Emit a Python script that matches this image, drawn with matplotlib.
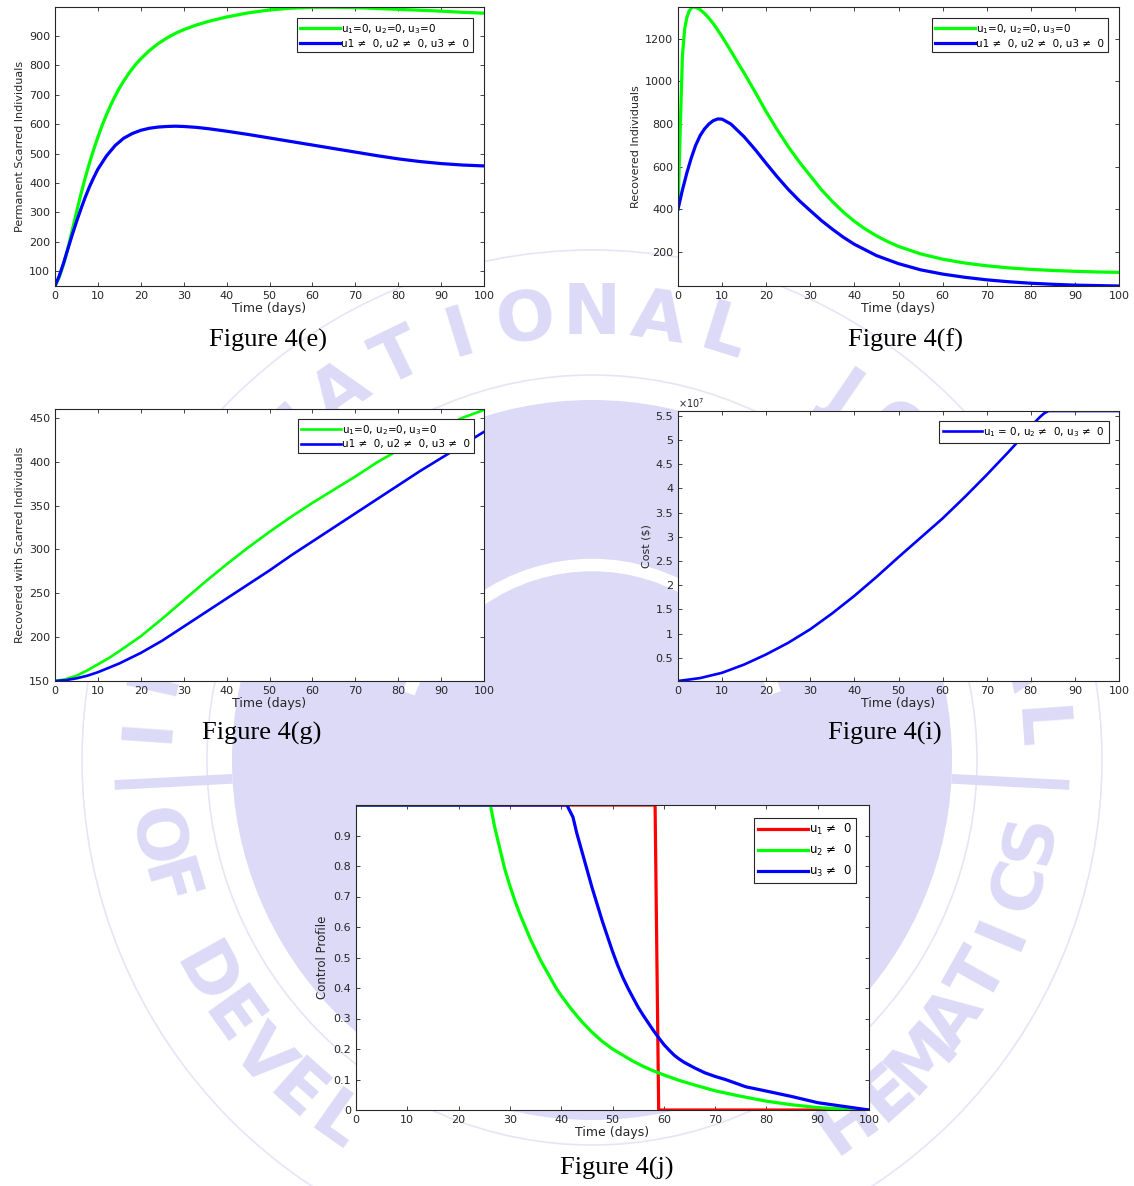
import numpy as np
import matplotlib
matplotlib.use('Agg')
import matplotlib.pyplot as plt
from matplotlib.patches import Circle, Arc

plt.rcParams['font.family'] = ['DejaVu Sans']
plt.rcParams['mathtext.default'] = 'regular'

W, H = 1134, 1186

# ---- data (time in days) ----
t_e_none = [0, 1, 2, 3, 4, 5, 6, 7, 8, 9, 10, 11, 12, 13, 14, 15, 16, 17, 18, 19, 20, 22, 24,
            26, 28, 30, 33, 36, 40, 45, 50, 55, 60, 65, 70, 75, 80, 85, 90, 95, 100]
scar_none = [50, 80, 124, 178, 238, 300, 360, 415, 466, 513, 556, 596, 632, 665, 695, 722, 746,
             768, 788, 806, 822, 850, 873, 892, 908, 921, 937, 950, 964, 978, 988, 994, 997, 997,
             996, 993, 990, 987, 984, 980, 977]
t_e_ctrl = [0, 1, 2, 3, 4, 5, 6, 7, 8, 9, 10, 12, 14, 16, 18, 20, 22, 24, 26, 28, 30, 33, 36,
            40, 45, 50, 55, 60, 65, 70, 75, 80, 85, 90, 95, 100]
scar_ctrl = [50, 85, 128, 176, 223, 268, 310, 350, 386, 418, 447, 492, 527, 552, 568, 579, 586,
             590, 592, 593, 592, 589, 584, 576, 565, 553, 541, 529, 517, 505, 493, 482, 473, 466,
             461, 458]

t_f_none = [0, 0.5, 1, 1.5, 2, 2.5, 3, 3.5, 4, 5, 6, 7, 8, 9, 10, 11, 12, 13, 14, 15, 17.5, 20,
            22.5, 25, 27.5, 30, 32.5, 35, 37.5, 40, 42.5, 45, 47.5, 50, 55, 60, 65, 70, 75, 80,
            85, 90, 95, 100]
rec_none = [400, 770, 1120, 1245, 1300, 1330, 1345, 1350, 1349, 1338, 1320, 1298, 1272, 1242,
            1210, 1177, 1143, 1108, 1073, 1040, 950, 858, 773, 694, 622, 557, 492, 436, 386, 343,
            306, 275, 248, 225, 190, 165, 147, 134, 124, 117, 112, 108, 105, 103]
t_f_ctrl = [0, 1, 2, 3, 4, 5, 6, 7, 8, 9, 10, 12, 15, 17.5, 20, 22.5, 25, 27.5, 30, 32.5, 35,
            37.5, 40, 45, 50, 55, 60, 65, 70, 75, 80, 85, 90, 95, 100]
rec_ctrl = [400, 490, 570, 640, 700, 745, 777, 800, 816, 824, 823, 800, 740, 680, 615, 552, 493,
            440, 393, 347, 306, 268, 235, 182, 144, 115, 95, 80, 68, 59, 52, 47, 43, 41, 39]

t_g = [0, 2.5, 5, 7.5, 10, 12.5, 15, 20, 25, 30, 35, 40, 45, 50, 55, 60, 65, 70, 75, 80, 85, 90,
       95, 100]
rs_none = [150, 152, 156, 162, 169, 176, 184, 201, 221, 242, 263, 283, 302, 320, 337, 353, 368,
           383, 399, 413, 427, 439, 450, 459]
rs_ctrl = [150, 151, 153, 156, 160, 165, 170, 182, 196, 212, 228, 244, 260, 276, 293, 309, 325,
           341, 357, 373, 389, 404, 419, 434]

t_i = [0, 5, 10, 15, 20, 25, 30, 35, 40, 45, 50, 55, 60, 65, 70, 75, 78, 80, 82, 83, 84, 90, 100]
cost = [0.02, 0.08, 0.19, 0.36, 0.57, 0.81, 1.09, 1.42, 1.78, 2.17, 2.58, 2.98, 3.38, 3.82, 4.28,
        4.76, 5.06, 5.28, 5.47, 5.55, 5.6, 5.6, 5.6]  # x 1e7

t_u1 = [0, 58.3, 59.0, 100]
u1 = [1, 1, 0, 0]
t_u2 = [0, 26.2, 27, 28, 29, 30, 31, 32, 33, 34, 35, 36, 37, 38, 39, 40, 42, 44, 46, 48, 50, 52,
        54, 56, 58, 60, 63, 66, 70, 75, 80, 85, 90, 95, 100]
u2 = [1, 1, 0.93, 0.86, 0.79, 0.735, 0.685, 0.64, 0.6, 0.56, 0.525, 0.49, 0.46, 0.43, 0.4, 0.375,
      0.33, 0.29, 0.255, 0.225, 0.2, 0.18, 0.16, 0.143, 0.128, 0.115, 0.097, 0.082, 0.063, 0.045,
      0.029, 0.017, 0.008, 0.003, 0]
t_u3 = [0, 41.1, 42.3, 43, 44, 45, 46, 47, 48, 49, 50, 51, 52, 53, 54, 55, 56, 57, 58, 59, 60, 61,
        62, 63, 64, 66, 68, 70, 72, 76, 80, 85, 90, 95, 100]
u3 = [1, 1, 0.96, 0.91, 0.85, 0.79, 0.73, 0.675, 0.62, 0.57, 0.52, 0.475, 0.435, 0.4, 0.368,
      0.337, 0.31, 0.285, 0.26, 0.237, 0.215, 0.197, 0.18, 0.167, 0.156, 0.138, 0.122, 0.11, 0.1,
      0.076, 0.062, 0.044, 0.024, 0.012, 0]

lab_none = '$u_1$=0, $u_2$=0, $u_3$=0'
lab_ctrl = 'u1 \u2260  0, u2 \u2260  0, u3 \u2260  0'
lab_cost = '$u_1$ = 0, $u_2$ \u2260  0, $u_3$ \u2260  0'

GREEN, BLUE, RED = '#00ff00', '#0000ff', '#ff0000'
DARK = '#262626'
WM = '#dcdaf7'

fig = plt.figure(figsize=(W / 100, H / 100), dpi=100)

# ---- background seal ----
bg = fig.add_axes([0, 0, 1, 1], zorder=0)
bg.set_xlim(0, W)
bg.set_ylim(H, 0)
bg.axis('off')
cx, cy = 592, 760
bg.add_patch(Circle((cx, cy), 360, color=WM, lw=0))
bg.add_patch(Arc((cx, cy), 390, 390, theta1=200, theta2=340, color='white', lw=9))
for r in (385, 510):
    bg.add_patch(Circle((cx, cy), r, fill=False, ec='#e6e5f8', lw=1.2))
for a in (183, -3):
    ar = np.radians(a)
    bg.plot([cx + 360 * np.cos(ar), cx + 478 * np.cos(ar)],
            [cy - 360 * np.sin(ar), cy - 478 * np.sin(ar)], color=WM, lw=7, solid_capstyle='butt')


def arc_text(text, start, step, radius, bottom=False):
    for k, ch in enumerate(text):
        if ch == ' ':
            continue
        a = start + k * step
        ar = np.radians(a)
        x, y = cx + radius * np.cos(ar), cy - radius * np.sin(ar)
        if y > 1140:
            # letters below this sit off the page
            continue
        rot = a - 270 if bottom else a - 90
        bg.text(x, y, ch, rotation=rot, ha='center', va='center', fontsize=50,
                fontweight='bold', color=WM, rotation_mode='anchor')


arc_text('INTERNATIONAL JOURNAL', 176, -8.6, 445)
arc_text('OF DEVELOPMENT MATHEMATICS', 190, 6.4, 445, bottom=True)


def px_axes(l, t, r, b):
    ax = fig.add_axes([l / W, 1 - b / H, (r - l) / W, (b - t) / H], zorder=2)
    ax.set_facecolor('white')
    for s in ax.spines.values():
        s.set_color(DARK)
        s.set_linewidth(0.8)
    ax.tick_params(direction='in', length=3, width=0.6, top=True, right=True,
                   labelsize=8, colors=DARK, pad=3.5)
    ax.set_xlim(0, 100)
    ax.set_xticks(np.arange(0, 101, 10))
    ax.set_xlabel('Time (days)', fontsize=9, labelpad=1, color=DARK)
    return ax


def legend(ax, pad, fs=7.5, spacing=0.25, hl=3.8):
    leg = ax.legend(loc='upper right', fontsize=fs, fancybox=False, framealpha=1,
                    edgecolor=DARK, borderaxespad=pad, handlelength=hl,
                    handletextpad=0.1, borderpad=0.35, labelspacing=spacing)
    leg.get_frame().set_linewidth(0.8)
    return leg


# Figure 4(e)
ax = px_axes(55, 7, 484, 286)
ax.plot(t_e_none, scar_none, color=GREEN, lw=2.3, label=lab_none)
ax.plot(t_e_ctrl, scar_ctrl, color=BLUE, lw=2.3, label=lab_ctrl)
ax.set_ylim(50, 998)
ax.set_yticks(np.arange(100, 901, 100))
ax.set_ylabel('Permanent Scarred Individuals', fontsize=8, labelpad=3, color=DARK)
legend(ax, 1.1)

# Figure 4(f)
ax = px_axes(678, 7, 1119, 286)
ax.plot(t_f_none, rec_none, color=GREEN, lw=2.3, label=lab_none)
ax.plot(t_f_ctrl, rec_ctrl, color=BLUE, lw=2.3, label=lab_ctrl)
ax.set_ylim(39, 1350)
ax.set_yticks(np.arange(200, 1201, 200))
ax.set_ylabel('Recovered Individuals', fontsize=8, labelpad=3, color=DARK)
legend(ax, 1.1)

# Figure 4(g)
ax = px_axes(55, 409, 484, 681)
ax.plot(t_g, rs_none, color=GREEN, lw=1.9, label=lab_none)
ax.plot(t_g, rs_ctrl, color=BLUE, lw=1.9, label=lab_ctrl)
ax.set_ylim(150, 460)
ax.set_yticks(np.arange(150, 451, 50))
ax.set_ylabel('Recovered with Scarred Individuals', fontsize=8, labelpad=3, color=DARK)
legend(ax, 1.0)

# Figure 4(i)
ax = px_axes(678, 411, 1119, 681)
ax.plot(t_i, cost, color=BLUE, lw=1.9, label=lab_cost)
ax.set_ylim(0.02, 5.6)
yt = np.arange(0.5, 5.51, 0.5)
ax.set_yticks(yt)
ax.set_yticklabels([f'{v:g}' for v in yt])
ax.set_ylabel('Cost ($)', fontsize=8, labelpad=3, color=DARK)
ax.text(0.0, 1.004, r'$\times10^{7}$', transform=ax.transAxes, fontsize=7, color=DARK,
        ha='left', va='bottom')
legend(ax, 1.0)

# Figure 4(j)
ax = px_axes(356, 805, 869, 1110)
ax.plot(t_u1, u1, color=RED, lw=2.3, label='$u_1$ \u2260  0')
ax.plot(t_u2, u2, color=GREEN, lw=2.3, label='$u_2$ \u2260  0')
ax.plot(t_u3, u3, color=BLUE, lw=2.3, label='$u_3$ \u2260  0')
ax.set_ylim(0, 1)
yt = np.arange(0, 0.91, 0.1)
ax.set_yticks(yt)
ax.set_yticklabels([f'{v:g}' for v in np.round(yt, 1)])
ax.set_ylabel('Control Profile', fontsize=8.5, labelpad=3, color=DARK)
legend(ax, 1.1, fs=8.5, spacing=0.5, hl=4.2)

# captions
for label, x, y in [('Figure 4(e)', 268, 340), ('Figure 4(f)', 905, 340),
                    ('Figure 4(g)', 262, 733), ('Figure 4(i)', 885, 733),
                    ('Figure 4(j)', 617, 1168)]:
    fig.text(x / W, 1 - y / H, label, ha='center', va='center', fontsize=19,
             family='Liberation Serif', color='black', zorder=3)

fig.savefig('out.png', dpi=100)
